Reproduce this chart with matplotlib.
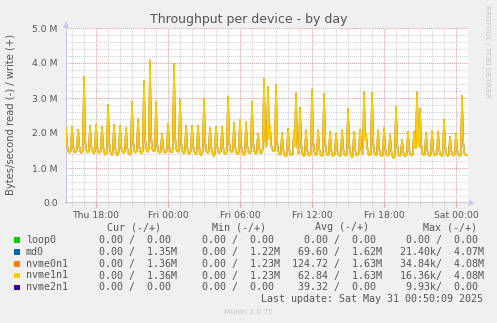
import numpy as np
import pandas as pd
import matplotlib
matplotlib.use("Agg")
import matplotlib.pyplot as plt
import matplotlib.dates as mdates
from matplotlib.patches import Rectangle, Polygon

# ---------------- data ----------------
start_time = "2025-05-29 15:30"
end_time = "2025-05-31 01:00"
sample_freq = "5min"

# write throughput (MB/s), 5-minute samples, six per row (one 30-minute cycle)
write_rows = [
    [2.14, 1.70, 1.50, 1.46, 1.44, 1.52],
    [2.18, 1.66, 1.48, 1.45, 1.47, 1.50],
    [2.11, 1.68, 1.49, 1.43, 1.46, 1.51],
    [3.63, 1.85, 1.55, 1.47, 1.44, 1.50],
    [2.22, 1.70, 1.51, 1.46, 1.42, 1.49],
    [2.25, 1.66, 1.47, 1.44, 1.45, 1.52],
    [2.20, 1.64, 1.46, 1.40, 1.38, 1.47],
    [2.82, 1.78, 1.50, 1.43, 1.37, 1.46],
    [2.25, 1.62, 1.44, 1.36, 1.40, 1.48],
    [2.22, 1.65, 1.49, 1.45, 1.43, 1.50],
    [2.15, 1.63, 1.45, 1.42, 1.37, 1.47],
    [2.90, 1.80, 1.52, 1.46, 1.44, 1.50],
    [2.42, 1.70, 1.48, 1.44, 1.41, 1.55],
    [3.51, 1.88, 1.56, 1.48, 1.46, 1.60],
    [4.09, 1.95, 1.58, 1.50, 1.47, 1.52],
    [2.91, 1.76, 1.50, 1.45, 1.43, 1.49],
    [2.00, 1.60, 1.47, 1.44, 1.46, 1.51],
    [2.28, 1.66, 1.49, 1.46, 1.45, 1.55],
    [3.99, 1.92, 1.57, 1.49, 1.46, 1.52],
    [2.97, 1.78, 1.51, 1.45, 1.42, 1.48],
    [2.22, 1.64, 1.46, 1.40, 1.44, 1.49],
    [2.22, 1.66, 1.48, 1.43, 1.39, 1.47],
    [2.22, 1.62, 1.45, 1.36, 1.41, 1.48],
    [3.00, 1.80, 1.52, 1.46, 1.43, 1.50],
    [2.15, 1.64, 1.47, 1.38, 1.34, 1.46],
    [2.20, 1.66, 1.48, 1.43, 1.45, 1.49],
    [2.20, 1.63, 1.46, 1.40, 1.42, 1.48],
    [3.06, 1.82, 1.53, 1.47, 1.44, 1.50],
    [2.30, 1.66, 1.47, 1.42, 1.38, 1.49],
    [2.40, 1.70, 1.49, 1.41, 1.36, 1.48],
    [2.32, 1.67, 1.47, 1.44, 1.42, 1.50],
    [2.91, 1.78, 1.50, 1.45, 1.40, 1.47],
    [2.00, 1.60, 1.46, 1.43, 1.45, 1.60],
    [3.56, 1.90, 1.62, 1.70, 3.33, 1.85],
    [2.23, 1.68, 1.55, 1.50, 1.47, 1.52],
    [3.38, 1.82, 1.52, 1.42, 1.37, 1.43],
    [2.02, 1.58, 1.42, 1.36, 1.34, 1.40],
    [2.13, 1.60, 1.41, 1.38, 1.36, 1.42],
    [2.09, 1.60, 3.15, 1.78, 1.45, 1.40],
    [2.73, 1.75, 1.46, 1.38, 1.33, 1.41],
    [2.09, 1.58, 1.40, 1.36, 1.38, 1.42],
    [3.25, 1.85, 1.50, 1.40, 1.36, 1.41],
    [2.09, 1.60, 1.42, 1.37, 1.35, 1.40],
    [3.13, 1.82, 1.48, 1.39, 1.36, 1.42],
    [2.05, 1.58, 1.40, 1.35, 1.37, 1.41],
    [2.00, 1.56, 1.41, 1.37, 1.34, 1.40],
    [2.09, 1.60, 1.42, 1.38, 1.35, 1.41],
    [2.70, 1.74, 1.46, 1.38, 1.30, 1.40],
    [2.05, 1.58, 1.40, 1.36, 1.38, 1.42],
    [2.11, 1.60, 1.42, 1.40, 3.18, 1.80],
    [2.00, 1.62, 1.44, 1.38, 1.36, 1.42],
    [3.16, 1.82, 1.48, 1.39, 1.37, 1.41],
    [2.09, 1.60, 1.41, 1.36, 1.33, 1.40],
    [2.15, 1.62, 1.42, 1.38, 1.35, 1.41],
    [1.95, 1.56, 1.38, 1.32, 1.28, 1.38],
    [2.77, 1.76, 1.45, 1.37, 1.34, 1.40],
    [1.81, 1.52, 1.38, 1.33, 1.36, 1.40],
    [2.05, 1.58, 1.41, 1.37, 1.35, 1.41],
    [2.05, 1.60, 1.55, 3.18, 1.85, 1.60],
    [2.70, 1.75, 1.46, 1.39, 1.36, 1.41],
    [2.02, 1.58, 1.41, 1.37, 1.35, 1.40],
    [2.06, 1.59, 1.40, 1.36, 1.38, 1.41],
    [2.06, 1.58, 1.41, 1.37, 1.34, 1.40],
    [2.39, 1.66, 1.43, 1.37, 1.35, 1.40],
    [1.90, 1.55, 1.40, 1.36, 1.38, 1.41],
    [2.00, 1.57, 1.41, 1.37, 1.35, 1.40],
    [3.07, 1.82, 1.47, 1.39, 1.36, 1.38],
    [1.37],
]

devices = ["loop0", "md0", "nvme0n1", "nvme1n1", "nvme2n1"]
device_colors = ["#00CC00", "#0066B3", "#FF8000", "#FFCC00", "#330099"]
plotted_devices = ["md0", "nvme0n1", "nvme1n1"]

cur_vals = ["  0.00 /  0.00 ", "  0.00 /  1.35M", "  0.00 /  1.36M", "  0.00 /  1.36M", "  0.00 /  0.00 "]
min_vals = ["  0.00 /  0.00 ", "  0.00 /  1.22M", "  0.00 /  1.23M", "  0.00 /  1.23M", "  0.00 /  0.00 "]
avg_vals = ["  0.00 /  0.00 ", " 69.60 /  1.62M", "124.72 /  1.63M", " 62.84 /  1.63M", " 39.32 /  0.00 "]
max_vals = ["  0.00 /  0.00 ", " 21.40k/  4.07M", " 34.84k/  4.08M", " 16.36k/  4.08M", "  9.93k/  0.00 "]
col_headers = ["Cur (-/+)", "Min (-/+)", "Avg (-/+)", "Max (-/+)"]

y_ticks = [0, 1e6, 2e6, 3e6, 4e6, 5e6]
y_tick_labels = ["0.0", "1.0 M", "2.0 M", "3.0 M", "4.0 M", "5.0 M"]

title = "Throughput per device - by day"
ylabel = "Bytes/second read (-) / write (+)"
last_update = "Last update: Sat May 31 00:50:09 2025"
footer = "Munin 2.0.75"
watermark = "RRDTOOL / TOBI OETIKER"

# ---------------- figure ----------------
W, H = 497, 323
BG = "#F0F0F0"
TXT = "#555555"
fig = plt.figure(figsize=(W / 100, H / 100), dpi=100, facecolor=BG)

def fx(px):
    return px / W

def fy(py):
    return 1 - py / H

L, R, T, B = 66, 468, 28, 203
ax = fig.add_axes([fx(L), fy(B), fx(R - L), (B - T) / H])
ax.set_facecolor("white")

writes = np.array([v for row in write_rows for v in row]) * 1e6
times = pd.date_range(start_time, periods=len(writes), freq=sample_freq)
tnum = mdates.date2num(times.to_pydatetime())

for dev in plotted_devices:
    c = device_colors[devices.index(dev)]
    ax.plot(tnum, writes, color=c, lw=1.1, solid_joinstyle="miter", zorder=3)

ax.set_xlim(mdates.date2num(pd.Timestamp(start_time)), mdates.date2num(pd.Timestamp(end_time)))
ax.set_ylim(0, 5e6)

ax.xaxis.set_major_locator(mdates.HourLocator(byhour=[0, 6, 12, 18]))
ax.xaxis.set_minor_locator(mdates.HourLocator())
ax.xaxis.set_major_formatter(mdates.DateFormatter("%a %H:%M"))
ax.set_yticks(y_ticks)
ax.set_yticklabels(y_tick_labels)
ax.set_yticks(np.arange(0, 5.01e6, 0.2e6), minor=True)

dot = (0, (1, 1))
ax.grid(which="minor", color="#cfcfcf", lw=0.75, linestyle=dot, zorder=1)
ax.grid(which="major", color="#e49a9a", lw=0.75, linestyle=dot, zorder=1)

ax.tick_params(axis="x", which="major", length=3, color="#e49a9a", labelsize=6.7,
               labelcolor=TXT, pad=3)
ax.tick_params(axis="x", which="minor", length=2, color="#cfcfcf")
ax.tick_params(axis="y", which="both", length=0, labelsize=6.7, labelcolor=TXT, pad=6)

for s in ["top", "right"]:
    ax.spines[s].set_visible(False)
ax.spines["left"].set_color("#c8c8f0")
ax.spines["left"].set_linewidth(0.8)
ax.spines["bottom"].set_visible(False)
ax.axhline(0, color="black", lw=1.0, zorder=4)

# axis arrows
fig.add_artist(Polygon([[fx(L - 3), fy(28)], [fx(L + 3), fy(28)], [fx(L), fy(21)]],
                       closed=True, transform=fig.transFigure, color="#c8c8f0", lw=0))
fig.add_artist(Polygon([[fx(R + 1), fy(200)], [fx(R + 1), fy(206)], [fx(R + 7), fy(203)]],
                       closed=True, transform=fig.transFigure, color="#c8c8f0", lw=0))

# title / labels
fig.text(fx(248.5), fy(19), title, ha="center", va="center", fontsize=9, color=TXT)
fig.text(fx(11), fy(114), ylabel, ha="center", va="center", rotation=90, fontsize=7.2, color=TXT)
fig.text(fx(487), fy(5), watermark, ha="center", va="top", rotation=270, fontsize=5.2,
         color="#c4c4c4")

# legend table
MONO = "DejaVu Sans Mono"
FS = 7.2
header_x = [107.3, 212.3, 314.7, 422.7]
for hx, h in zip(header_x, col_headers):
    fig.text(fx(hx), fy(227.5), h, ha="left", va="center", family=MONO, fontsize=FS, color=TXT)

row_y = [240, 251.7, 263.8, 275.5, 287.3]
for i, dev in enumerate(devices):
    y = row_y[i]
    fig.add_artist(Rectangle((fx(14), fy(y + 2.8)), 5.5 / W, 5.5 / H, transform=fig.transFigure,
                             color=device_colors[i], lw=0))
    fig.text(fx(26), fy(y), dev, ha="left", va="center", family=MONO, fontsize=FS, color=TXT)
    for cx, vals in zip([87.3, 189.7, 292.0, 394.5], [cur_vals, min_vals, avg_vals, max_vals]):
        fig.text(fx(cx), fy(y), vals[i], ha="left", va="center", family=MONO, fontsize=FS,
                 color=TXT)

fig.text(fx(483), fy(299.5), last_update, ha="right", va="center", family=MONO, fontsize=FS,
         color=TXT)
fig.text(fx(248), fy(312), footer, ha="center", va="center", fontsize=5.4, color="#c8c8c8")

fig.savefig("out.png", dpi=100, facecolor=BG)
